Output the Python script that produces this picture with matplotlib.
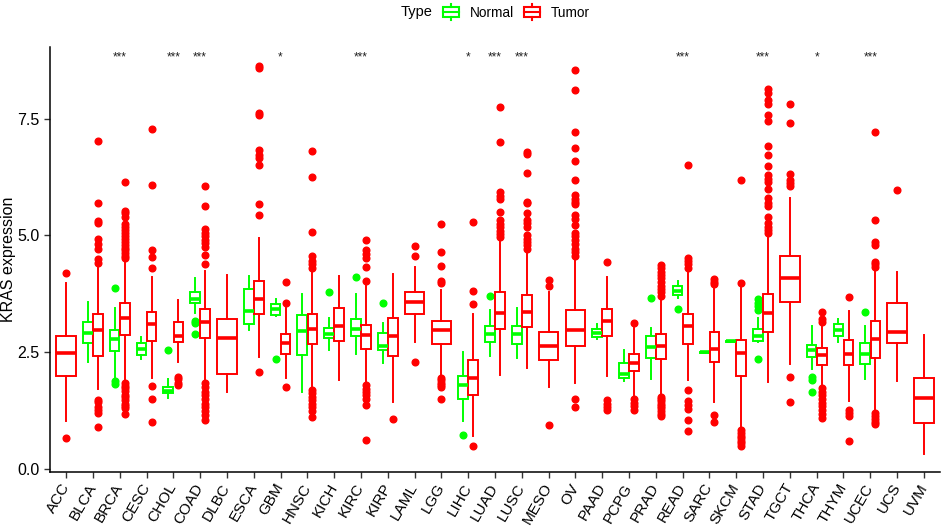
import matplotlib
matplotlib.use('Agg')
import matplotlib.pyplot as plt
from matplotlib.patches import Patch, Rectangle
from matplotlib.lines import Line2D
from matplotlib.legend_handler import HandlerBase

plt.rcParams['font.family'] = ['Liberation Sans', 'DejaVu Sans']

# cancer types on the x axis
cancers = ['ACC', 'BLCA', 'BRCA', 'CESC', 'CHOL', 'COAD', 'DLBC', 'ESCA', 'GBM', 'HNSC',
           'KICH', 'KIRC', 'KIRP', 'LAML', 'LGG', 'LIHC', 'LUAD', 'LUSC', 'MESO', 'OV',
           'PAAD', 'PCPG', 'PRAD', 'READ', 'SARC', 'SKCM', 'STAD', 'TGCT', 'THCA', 'THYM',
           'UCEC', 'UCS', 'UVM']

# significance marks (Normal vs Tumor)
signif = ['', '', '***', '', '***', '***', '', '', '*', '', '', '***', '', '', '', '*',
          '***', '***', '', '', '', '', '', '***', '', '', '***', '', '*', '', '***', '', '']

# tumor box stats: whisker low, q1, median, q3, whisker high
tumor_lo = [1.04, 1.71, 1.88, 1.95, 2.29, 1.88, 1.66, 2.41, 1.95, 1.73, 1.90, 1.84, 1.43,
            2.73, 1.98, 0.70, 2.02, 2.16, 1.75, 1.84, 2.00, 1.57, 1.59, 1.90, 1.43, 0.88,
            1.86, 2.25, 1.77, 1.46, 1.24, 1.89, 0.32]
tumor_q1 = [2.00, 2.43, 2.88, 2.75, 2.71, 2.80, 2.04, 3.32, 2.46, 2.67, 2.75, 2.57, 2.43,
            3.32, 2.67, 1.59, 2.99, 3.05, 2.33, 2.64, 2.85, 2.10, 2.35, 2.68, 2.30, 2.00,
            2.93, 3.57, 2.23, 2.22, 2.38, 2.70, 0.98]
tumor_med = [2.49, 2.98, 3.23, 3.11, 2.85, 3.14, 2.80, 3.63, 2.70, 2.99, 3.07, 2.87, 2.84,
             3.57, 2.97, 1.94, 3.34, 3.37, 2.64, 2.98, 3.17, 2.28, 2.64, 3.07, 2.57, 2.48,
             3.34, 4.10, 2.45, 2.47, 2.79, 2.93, 1.53]
tumor_q3 = [2.84, 3.32, 3.55, 3.36, 3.15, 3.43, 3.21, 4.02, 2.89, 3.32, 3.44, 3.09, 3.23,
            3.80, 3.16, 2.33, 3.78, 3.73, 2.94, 3.41, 3.43, 2.47, 2.89, 3.32, 2.93, 2.77,
            3.74, 4.56, 2.60, 2.77, 3.16, 3.55, 1.95]
tumor_hi = [3.99, 4.30, 4.48, 4.12, 3.62, 4.24, 4.16, 4.95, 3.45, 4.23, 4.13, 3.92, 4.18,
            4.33, 3.84, 3.32, 4.90, 4.69, 3.78, 4.50, 4.12, 3.03, 3.62, 4.23, 3.85, 3.87,
            4.94, 5.79, 3.08, 3.39, 4.26, 4.21, 2.86]
tumor_out = [
    [4.19, 0.66],
    [7.03, 5.69, 5.30, 5.27, 4.92, 4.81, 4.70, 4.50, 4.41, 1.49, 1.43, 1.34, 1.27, 1.21, 0.90],
    [6.14, 5.53, 5.47, 5.39, 5.25, 5.18, 5.12, 5.05, 4.98, 4.92, 4.86, 4.80, 4.74, 4.68, 4.62,
     4.56, 4.51, 1.84, 1.78, 1.73, 1.68, 1.59, 1.54, 1.49, 1.40, 1.35, 1.31, 1.18],
    [7.28, 6.08, 4.69, 4.53, 4.30, 1.79, 1.51, 1.01],
    [1.98, 1.92, 1.85, 1.80],
    [6.05, 5.63, 5.13, 5.05, 4.98, 4.90, 4.83, 4.76, 4.58, 4.39, 1.84, 1.75, 1.66, 1.58, 1.50,
     1.40, 1.32, 1.25, 1.15, 1.06],
    [],
    [8.62, 8.58, 7.62, 7.58, 6.83, 6.73, 6.65, 6.51, 5.67, 5.44, 2.08],
    [4.01, 3.56, 1.75],
    [6.80, 6.24, 5.08, 4.55, 4.45, 4.38, 4.30, 1.70, 1.62, 1.55, 1.48, 1.40, 1.33, 1.25, 1.12],
    [],
    [4.90, 4.69, 4.60, 4.51, 4.33, 4.03, 1.80, 1.72, 1.65, 1.58, 1.50, 1.38, 0.63],
    [1.08],
    [4.78, 4.55, 2.30],
    [5.25, 4.65, 4.35, 4.03, 3.99, 1.95, 1.90, 1.85, 1.80, 1.75, 1.51],
    [5.28, 3.82, 3.53, 0.49],
    [7.75, 7.00, 5.92, 5.85, 5.78, 5.51, 5.33, 5.25, 5.18, 5.10, 5.02, 4.96],
    [6.79, 6.74, 6.33, 5.72, 5.69, 5.47, 5.33, 5.26, 5.19, 5.01, 4.93, 4.86, 4.79, 4.72],
    [4.05, 3.91, 0.95],
    [8.54, 8.11, 7.22, 6.86, 6.59, 6.19, 5.87, 5.78, 5.72, 5.68, 5.44, 5.35, 5.23, 5.05, 4.98,
     4.90, 4.82, 4.72, 4.64, 4.56, 1.50, 1.34],
    [4.43, 1.48, 1.40, 1.33, 1.27],
    [3.12, 1.50, 1.42, 1.35, 1.27],
    [4.36, 4.30, 4.22, 4.15, 4.08, 4.00, 3.92, 3.85, 3.78, 3.70, 1.55, 1.50, 1.45, 1.40, 1.35,
     1.30, 1.25, 1.18, 1.13],
    [6.51, 4.51, 4.45, 4.38, 4.30, 1.70, 1.45, 1.37, 1.29, 1.06, 0.82],
    [4.06, 4.01, 3.96, 1.15, 1.01],
    [6.19, 3.98, 0.84, 0.78, 0.72, 0.66, 0.60, 0.55, 0.49],
    [8.14, 8.04, 7.90, 7.82, 7.57, 7.45, 6.92, 6.73, 6.48, 6.29, 6.20, 6.14, 5.99, 5.80, 5.70,
     5.62, 5.40, 5.26, 5.18, 5.12, 5.06],
    [7.82, 7.40, 6.31, 6.19, 6.12, 6.06, 1.98, 1.43],
    [3.37, 3.22, 3.14, 1.73, 1.65, 1.58, 1.50, 1.42, 1.35, 1.27, 1.18, 1.09],
    [3.68, 1.27, 1.20, 1.14, 0.61],
    [7.22, 5.33, 4.86, 4.80, 4.43, 4.38, 4.33, 1.21, 1.14, 1.07, 1.02, 0.97],
    [5.97],
    [],
]

# normal box stats (None = no normal samples)
normal_lo = [None, 2.30, 1.97, 2.36, 1.52, 3.34, None, 2.98, 3.27, 1.66, 2.54, 2.46, 2.28,
             None, None, 1.04, 2.43, 2.37, None, None, 2.78, 1.88, 1.93, 3.66, 2.49, 2.73,
             2.73, None, 2.14, 2.72, 1.93, None, None]
normal_q1 = [None, 2.70, 2.53, 2.45, 1.63, 3.55, None, 3.11, 3.30, 2.45, 2.80, 2.84, 2.55,
             None, None, 1.50, 2.73, 2.67, None, None, 2.82, 1.95, 2.38, 3.73, 2.49, 2.73,
             2.75, None, 2.39, 2.84, 2.25, None, None]
normal_med = [None, 2.91, 2.79, 2.57, 1.68, 3.64, None, 3.39, 3.42, 2.95, 2.90, 2.99, 2.64,
              None, None, 1.80, 2.90, 2.90, None, None, 2.92, 2.04, 2.61, 3.81, 2.50, 2.74,
              2.85, None, 2.55, 2.98, 2.46, None, None]
normal_q3 = [None, 3.15, 2.97, 2.70, 1.75, 3.78, None, 3.86, 3.53, 3.29, 3.02, 3.22, 2.91,
             None, None, 2.00, 3.07, 3.07, None, None, 2.99, 2.28, 2.84, 3.91, 2.51, 2.75,
             2.99, None, 2.66, 3.10, 2.70, None, None]
normal_hi = [None, 3.57, 3.44, 2.82, 1.93, 4.08, None, 4.13, 3.64, 3.74, 3.23, 3.74, 3.12,
             None, None, 2.50, 3.41, 3.44, None, None, 3.10, 2.54, 3.02, 4.03, 2.51, 2.75,
             3.23, None, 3.07, 3.22, 3.07, None, None]
normal_out = [[], [], [3.88, 1.88, 1.82], [], [2.55], [3.17, 3.12, 2.89], [], [], [2.35], [],
              [3.78], [4.12], [3.55], [], [], [0.73], [3.71], [], [], [], [], [], [3.67],
              [3.43], [], [], [3.64, 3.56, 3.48, 3.41, 2.36], [], [1.97, 1.91, 1.66], [],
              [3.37], [], []]

normal_color = '#00FF00'
tumor_color = '#FF0000'


def make_stats(lo, q1, med, q3, hi, out):
    return dict(whislo=lo, q1=q1, med=med, q3=q3, whishi=hi, fliers=out)


def draw_boxes(ax, stats, positions, width, color):
    ax.bxp(stats, positions=positions, widths=width, showcaps=False, patch_artist=True,
           boxprops=dict(facecolor='white', edgecolor=color, linewidth=1.4),
           medianprops=dict(color=color, linewidth=2.6, solid_capstyle='butt'),
           whiskerprops=dict(color=color, linewidth=1.4),
           flierprops=dict(marker='o', markerfacecolor=color, markeredgecolor=color,
                           markersize=4.8, linestyle='none'),
           manage_ticks=False)


class BoxHandler(HandlerBase):
    # legend key: box with a middle line and short whiskers
    def create_artists(self, legend, orig_handle, xdescent, ydescent, width, height,
                       fontsize, trans):
        c = orig_handle.get_edgecolor()
        x0 = -xdescent
        y0 = -ydescent
        rect = Rectangle((x0, y0 + height * 0.18), width, height * 0.64, facecolor='white',
                         edgecolor=c, linewidth=1.5, transform=trans)
        mid = Line2D([x0, x0 + width], [y0 + height * 0.5] * 2, color=c, linewidth=1.5,
                     transform=trans)
        up = Line2D([x0 + width / 2] * 2, [y0 + height * 0.82, y0 + height * 1.0], color=c,
                    linewidth=1.5, transform=trans)
        dn = Line2D([x0 + width / 2] * 2, [y0, y0 + height * 0.18], color=c,
                    linewidth=1.5, transform=trans)
        return [rect, mid, up, dn]


fig = plt.figure(figsize=(9.41, 5.28), dpi=100)
ax = fig.add_axes([50 / 941, 1 - 472 / 528, 890 / 941, 425 / 528])

tumor_single = []
tumor_single_pos = []
tumor_pair = []
tumor_pair_pos = []
normal_stats = []
normal_pos = []
for i in range(len(cancers)):
    t = make_stats(tumor_lo[i], tumor_q1[i], tumor_med[i], tumor_q3[i], tumor_hi[i],
                   tumor_out[i])
    if normal_med[i] is None:
        tumor_single.append(t)
        tumor_single_pos.append(i)
    else:
        tumor_pair.append(t)
        tumor_pair_pos.append(i + 0.1875)
        normal_stats.append(make_stats(normal_lo[i], normal_q1[i], normal_med[i],
                                       normal_q3[i], normal_hi[i], normal_out[i]))
        normal_pos.append(i - 0.1875)

draw_boxes(ax, normal_stats, normal_pos, 0.36, normal_color)
draw_boxes(ax, tumor_pair, tumor_pair_pos, 0.36, tumor_color)
draw_boxes(ax, tumor_single, tumor_single_pos, 0.73, tumor_color)

for i, s in enumerate(signif):
    if s:
        ax.text(i, 8.8, s, ha='center', va='center', fontsize=8.5, color='#222222')

ax.set_xlim(-0.6, len(cancers) - 0.4)
ax.set_ylim(-0.06, 9.03)
ax.set_xticks(range(len(cancers)))
ax.set_xticklabels(cancers, rotation=60, ha='right', va='center', rotation_mode='anchor')
ax.set_yticks([0, 2.5, 5.0, 7.5])
ax.set_yticklabels(['0.0', '2.5', '5.0', '7.5'])
ax.tick_params(axis='both', length=4, width=1, color='#333333', labelcolor='black')
ax.tick_params(axis='y', labelsize=11.5)
ax.tick_params(axis='x', labelsize=11, pad=5)
ax.set_ylabel('KRAS expression', fontsize=11.5)
ax.yaxis.set_label_coords(-0.038, 0.5)
for side in ['top', 'right']:
    ax.spines[side].set_visible(False)
for side in ['left', 'bottom']:
    ax.spines[side].set_linewidth(1.1)

handles = [Patch(edgecolor=normal_color, facecolor='white', label='Normal'),
           Patch(edgecolor=tumor_color, facecolor='white', label='Tumor')]
fig.legend(handles=handles, labels=['Normal', 'Tumor'], handler_map={Patch: BoxHandler()},
           loc='center left', bbox_to_anchor=(443 / 941, 1 - 12 / 528), ncol=2,
           frameon=False, fontsize=9.8, handlelength=1.2, handleheight=1.4,
           handletextpad=0.8, columnspacing=0.7, borderpad=0, borderaxespad=0)
fig.text(401 / 941, 1 - 12 / 528, 'Type', ha='left', va='center', fontsize=10.5)

fig.savefig('out.png', dpi=100)
